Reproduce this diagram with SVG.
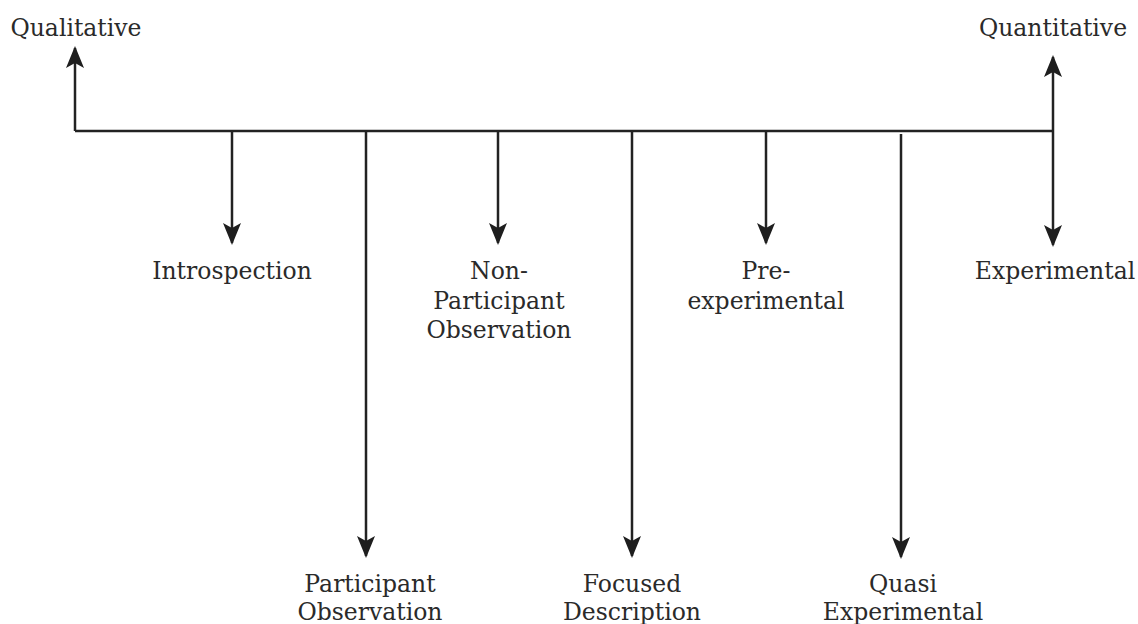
<svg xmlns="http://www.w3.org/2000/svg" width="1138" height="624" viewBox="0 0 1138 624">
<style>
text{font-family:"DejaVu Serif","Liberation Serif",serif;font-size:23.5px;fill:#2a2a2a;text-anchor:middle}
.c{stroke:#222;stroke-width:2.5;fill:none}
</style>
<defs>
<marker id="ah" viewBox="0 0 22 20" refX="20" refY="10" markerWidth="22" markerHeight="20" markerUnits="userSpaceOnUse" orient="auto">
<path d="M0,1 L22,10 L0,19 L5,10 Z" fill="#1e1e1e"/>
</marker>
</defs>
<rect width="1138" height="624" fill="#fff"/>
<g id="connectors">
<path class="c" d="M75,131 H1053"/>
<path class="c" d="M75,131 V48" marker-end="url(#ah)"/>
<path class="c" d="M1053,131 V57" marker-end="url(#ah)"/>
<path class="c" d="M1053,131 V245" marker-end="url(#ah)"/>
<path class="c" d="M232,131 V243" marker-end="url(#ah)"/>
<path class="c" d="M366,131 V556" marker-end="url(#ah)"/>
<path class="c" d="M498,131 V243" marker-end="url(#ah)"/>
<path class="c" d="M632,131 V556" marker-end="url(#ah)"/>
<path class="c" d="M766,131 V243" marker-end="url(#ah)"/>
<path class="c" d="M901,134 V557" marker-end="url(#ah)"/>
</g>
<g id="qualitative"><text x="76" y="36">Qualitative</text></g>
<g id="quantitative"><text x="1053" y="36">Quantitative</text></g>
<g id="introspection"><text x="232" y="279">Introspection</text></g>
<g id="participant-observation"><text x="370" y="592">Participant</text><text x="370" y="620">Observation</text></g>
<g id="non-participant-observation"><text x="499" y="279">Non-</text><text x="499" y="309">Participant</text><text x="499" y="338">Observation</text></g>
<g id="focused-description"><text x="632" y="592">Focused</text><text x="632" y="620">Description</text></g>
<g id="pre-experimental"><text x="766" y="279">Pre-</text><text x="766" y="309">experimental</text></g>
<g id="quasi-experimental"><text x="903" y="592">Quasi</text><text x="903" y="620">Experimental</text></g>
<g id="experimental"><text x="1055" y="279">Experimental</text></g>
</svg>
